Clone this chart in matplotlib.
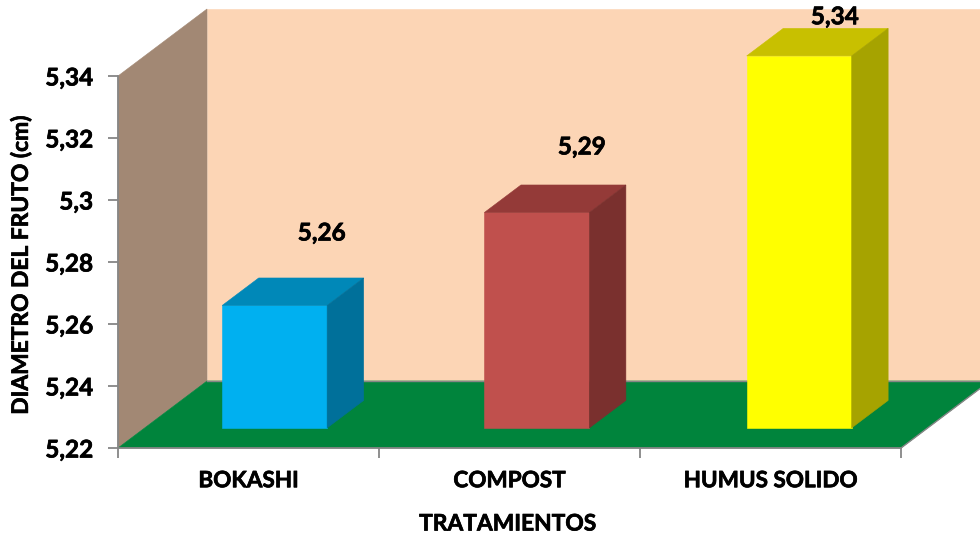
import matplotlib
matplotlib.use("Agg")
import matplotlib.pyplot as plt
import matplotlib.patheffects as pe
from matplotlib.patches import Polygon
from matplotlib.text import Text

plt.rcParams['font.family'] = ['Lato', 'DejaVu Sans']
plt.rcParams['font.weight'] = 'bold'

categorias = ['BOKASHI', 'COMPOST', 'HUMUS SOLIDO']
valores = [5.2595, 5.2895, 5.34]
etiquetas = ['5,26', '5,29', '5,34']
ticks = [5.22, 5.24, 5.26, 5.28, 5.3, 5.32, 5.34]
tick_labels = ['5,22', '5,24', '5,26', '5,28', '5,3', '5,32', '5,34']
colores = [('#00B0F0', '#0088B8', '#00709A'),
           ('#C0504D', '#943A38', '#7A302E'),
           ('#FFFF00', '#C8C000', '#A6A300')]
# corrimiento de cada etiqueta respecto a la barra, en puntos
etiqueta_dx = [7.5, 6, -0.7]
etiqueta_dy = [27, 22, 3]

W, H = 980, 537
fig = plt.figure(figsize=(W / 100, H / 100), dpi=100)
# ejes = caja frontal del grafico en pixeles
x0, x1, y0, y1 = 118, 901, 448, 76
ax = fig.add_axes([x0 / W, 1 - y0 / H, (x1 - x0) / W, (y0 - y1) / H])
ax.set_xlim(0, 3)
ax.set_ylim(5.22, 5.34)
ax.patch.set_visible(False)

# profundidad: cuanto se corre en x e y al ir al fondo
DX = 89 / 261
DY = 67 / 3100


def p(x, y, d):
    return (x + DX * d, y + DY * d)


def cara(pts, color, z=1):
    ax.add_patch(Polygon(pts, closed=True, fc=color, ec=color, lw=0.4, zorder=z, clip_on=False))


ymin, ymax = ticks[0], ticks[-1]
# pared del fondo, pared izquierda, piso
cara([p(0, ymin, 1), p(3, ymin, 1), p(3, ymax, 1), p(0, ymax, 1)], '#FCD5B5')
cara([p(0, ymin, 0), p(0, ymin, 1), p(0, ymax, 1), p(0, ymax, 0)], '#A28874')
cara([p(0, ymin, 0), p(3, ymin, 0), p(3, ymin, 1), p(0, ymin, 1)], '#00843C', 2)

# bordes grises del piso
borde = [p(0, ymin, 1), p(3, ymin, 1)]
ax.plot(*zip(*borde), color='#868686', lw=1, zorder=2.5, clip_on=False)
borde = [p(3, ymin, 0), p(3, ymin, 1)]
ax.plot(*zip(*borde), color='#868686', lw=1, zorder=2.5, clip_on=False)

ancho = 0.402
paso = 1.0048
d1, d2 = 0.3, 0.71
for i, v in enumerate(valores):
    a = 0.498 + i * paso - ancho / 2
    b = a + ancho
    fr, top, lado = colores[i]
    cara([p(a, ymin, d1), p(b, ymin, d1), p(b, v, d1), p(a, v, d1)], fr, 3)
    cara([p(a, v, d1), p(b, v, d1), p(b, v, d2), p(a, v, d2)], top, 3)
    cara([p(b, ymin, d1), p(b, ymin, d2), p(b, v, d2), p(b, v, d1)], lado, 3)
    ax.annotate(etiquetas[i], p((a + b) / 2, v, d2), xytext=(etiqueta_dx[i], etiqueta_dy[i]),
                textcoords='offset points', ha='center', va='baseline', fontsize=17.5,
                color='black', zorder=5, annotation_clip=False)

for s in ['top', 'right']:
    ax.spines[s].set_visible(False)
for s in ['left', 'bottom']:
    ax.spines[s].set_color('#868686')
    ax.spines[s].set_linewidth(1.3)
    ax.spines[s].set_zorder(4)

ax.set_yticks(ticks)
ax.set_yticklabels(tick_labels)
ax.set_xticks([0, 1, 2, 3])
ax.set_xticklabels([])
ax.set_xticks([0.5, 1.5, 2.5], minor=True)
ax.set_xticklabels(categorias, minor=True)
ax.tick_params(axis='y', labelsize=17.5, length=7, width=1.3, color='#868686', pad=11)
ax.tick_params(axis='x', which='major', length=7, width=1.3, color='#868686')
ax.tick_params(axis='x', which='minor', length=0, labelsize=16.2, pad=16)

fig.text(508 / W, 1 - 524 / H, 'TRATAMIENTOS', ha='center', va='center', fontsize=16.4)
fig.text(21 / W, 1 - 265 / H, 'DIAMETRO DEL FRUTO (cm)', rotation=90, ha='center', va='center', fontsize=16.4)

# Calibri negrita se ve mas gruesa que Lato
for t in fig.findobj(Text):
    t.set_path_effects([pe.withStroke(linewidth=0.5, foreground='black')])

fig.savefig('out.png', dpi=100)
